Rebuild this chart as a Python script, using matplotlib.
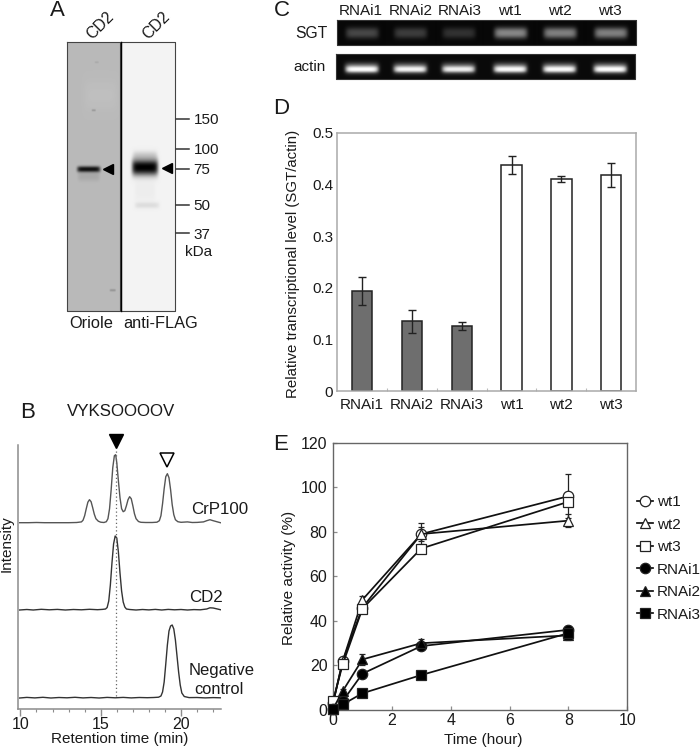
import numpy as np
import matplotlib
matplotlib.use("Agg")
import matplotlib.pyplot as plt
from matplotlib.ticker import MultipleLocator

plt.rcParams['font.family'] = ['Liberation Sans', 'DejaVu Sans']
W, H = 700, 749

# ---------- data ----------
lanes_d = ["RNAi1", "RNAi2", "RNAi3", "wt1", "wt2", "wt3"]
level = [0.193, 0.135, 0.126, 0.437, 0.410, 0.418]
level_err = [0.027, 0.022, 0.008, 0.017, 0.006, 0.024]
sgt_band = [0.36, 0.30, 0.24, 0.72, 0.68, 0.68]
actin_band = [1.0, 0.92, 0.88, 0.97, 0.97, 1.0]

hours = [0, 0.33, 1, 3, 8]
wt1 = [3, 22, 46, 79, 96]
wt2 = [3, 22, 49.5, 79, 85]
wt3 = [4, 20.5, 45.5, 72.5, 93.5]
rnai1 = [0.5, 4, 16.3, 28.7, 36]
rnai2 = [0.5, 8.5, 22.7, 30, 33.5]
rnai3 = [0.5, 2.5, 7.5, 15.7, 34.5]
wt1_err = [0, 1, 1.5, 5, 10]
wt2_err = [0, 1, 1.5, 3, 3]
wt3_err = [0, 1, 1.5, 2, 2]
rnai1_err = [0, 0.5, 1, 1.5, 1.5]
rnai2_err = [0, 1, 2.5, 2, 2]
rnai3_err = [0, 0.5, 0.5, 0.5, 1]

crp_t = [9.95,10.5,11,11.5,12,13,13.5,13.8,13.9,14.0,14.1,14.2,14.3,14.4,14.5,14.6,14.7,14.85,15,15.2,15.35,15.45,15.55,15.65,15.75,15.85,15.93,16.0,16.1,16.2,16.3,16.4,16.5,16.6,16.7,16.8,16.9,17.0,17.1,17.2,17.35,17.5,17.8,18.2,18.5,18.65,18.75,18.85,18.95,19.05,19.15,19.25,19.35,19.45,19.55,19.65,19.8,20,20.4,20.7,21,21.4,21.6,21.8,22,22.45]
crp_i = [0,0,0.2,0,0,0,0.2,0.8,2.5,7,14,20.5,23,21,15,8.5,4,1.5,0.5,0.2,1,4,14,33,55,67,68,60,42,25,14,11,12,17,23,26,24,17,9,4,1.2,0.4,0.2,0.2,0.5,2,7,19,34,46,49,45,33,18,8,3,1,0.4,0.8,0.2,0.3,0.8,2,3,2,0]
cd2_t = [9.95,10.4,10.8,11.3,11.8,12.3,12.8,13.3,13.8,14.3,14.8,15.1,15.3,15.4,15.5,15.6,15.7,15.8,15.9,16.0,16.1,16.2,16.3,16.4,16.5,16.6,16.8,17.2,17.6,18,18.4,18.8,19.2,19.6,20,20.4,20.8,21.2,21.6,21.8,22,22.45]
cd2_i = [0,0.5,0,0.7,0.2,0.6,0,0.5,0.2,0.7,0.3,0.6,1,2.5,9,25,47,66,74,72,58,37,19,8,3,1,0.5,0,0.5,0.1,0.6,0,0.6,0.2,0.5,0,0.4,0.2,1,2.2,2,0.3]
neg_t = [9.95,10.4,10.9,11.4,11.9,12.4,12.9,13.4,13.9,14.4,14.9,15.4,15.9,16.4,16.9,17.4,17.9,18.3,18.6,18.75,18.85,18.95,19.05,19.15,19.25,19.35,19.45,19.55,19.65,19.75,19.85,19.95,20.05,20.2,20.5,21,21.5,22,22.45]
neg_i = [0,0.6,0.1,0.7,0,0.5,0.2,0.7,0.1,0.5,0,0.6,0.2,0.6,0.1,0.5,0.3,0.5,0.8,2,6,16,34,53,67,72,73,69,58,42,26,13,5,1.5,0.4,0.5,0.1,0.4,0.2]
crp_base, cd2_base, neg_base = 186.3, 99, 11

mw_labels = ["150", "100", "75", "50", "37"]
mw_y = [119, 149, 169, 205, 233]

BLACK = '#1a1a1a'
GRAY = '#8c8c8c'

fig = plt.figure(figsize=(W / 100, H / 100), dpi=100)
bg = fig.add_axes([0, 0, 1, 1], zorder=0)
bg.set_xlim(0, W); bg.set_ylim(H, 0); bg.axis('off')


def place(l, t, r, b, **kw):
    return fig.add_axes([l / W, 1 - b / H, (r - l) / W, (b - t) / H], zorder=1, **kw)


def txt(x, y, s, size=11, **kw):
    kw.setdefault('ha', 'center'); kw.setdefault('va', 'center')
    bg.text(x, y, s, fontsize=size, color=BLACK, **kw)


def render(box, base, bands, frame='#555555'):
    """Paint blot / gel bands (cx, cy, half-w, half-h, strength, level) into an image."""
    l, t, r, b = box
    xs = np.arange(l, r, 0.5); ys = np.arange(t, b, 0.5)
    X, Y = np.meshgrid(xs, ys)
    img = np.full(X.shape, float(base))
    for cx, cy, hw, hh, s, target in bands:
        w = np.exp(-np.abs((X - cx) / hw) ** 8) * np.exp(-np.abs((Y - cy) / hh) ** 2.4)
        img = img + (target - img) * np.clip(w * s, 0, 1)
    bg.imshow(img, extent=(l, r, b, t), cmap='gray', vmin=0, vmax=1, aspect='auto', zorder=1, interpolation='bilinear')
    bg.plot([l, r, r, l, l], [t, t, b, b, t], color=frame, lw=0.8, zorder=2)


# ---------- panel A ----------
render((66.5, 42, 120.3, 311), 0.73, [
    (88, 169, 11.5, 3.0, 1.0, 0.05), (88, 176, 11, 5, 0.25, 0.45),
    (100, 95, 16, 14, 0.2, 0.82), (112, 290, 3, 1.2, 0.45, 0.4),
    (96, 62, 2, 1, 0.3, 0.5), (93, 110, 2, 1, 0.5, 0.45)], frame='#444444')
render((121.2, 42, 175, 311), 0.95, [
    (145, 167, 13, 8.0, 1.0, 0.0), (145, 156, 12, 5, 0.3, 0.45),
    (147, 205, 12, 3, 0.16, 0.45), (145, 190, 10, 12, 0.05, 0.5)], frame='#444444')
bg.plot([120.75, 120.75], [42, 311], color='black', lw=1.0, zorder=3)
bg.plot([108], [169], marker='<', ms=7.5, color='black', mec='black', zorder=3)
bg.plot([167], [168], marker='<', ms=7.5, color='black', mec='black', zorder=3)
for lab, y in zip(mw_labels, mw_y):
    bg.plot([176, 189], [y, y], color='#333333', lw=1.1)
txt(207, 120, "150"); txt(207, 150, "100"); txt(202, 170, "75")
txt(202, 206, "50"); txt(202, 235, "37"); txt(199, 252, "kDa")
txt(57, 10, "A", size=16)
txt(100, 26, "CD2", rotation=45, size=11.5); txt(156, 26, "CD2", rotation=45, size=11.5)
txt(91, 323, "Oriole", size=11.8); txt(160.5, 323, "anti-FLAG", size=11.8)

# ---------- panel B ----------
ax_b = place(18, 445, 220.7, 709)
ax_b.patch.set_alpha(0)
ax_b.set_xlim(9.85, 22.47); ax_b.set_ylim(0, 264)
for name, t, i, b, c in [("CrP100", crp_t, crp_i, crp_base, '#555555'),
                         ("CD2", cd2_t, cd2_i, cd2_base, '#333333'),
                         ("Negative control", neg_t, neg_i, neg_base, '#333333')]:
    ax_b.plot(t, np.asarray(i) + b, color=c, lw=1.0)
ax_b.axvline(15.93, ymin=0.05, ymax=0.98, color='#666666', lw=0.9, ls=(0, (1, 2)))
for s in ('top', 'right'):
    ax_b.spines[s].set_visible(False)
for s in ('left', 'bottom'):
    ax_b.spines[s].set_color(GRAY); ax_b.spines[s].set_linewidth(1.1)
ax_b.set_yticks([])
ax_b.set_xticks([10, 15, 20])
ax_b.xaxis.set_minor_locator(MultipleLocator(1))
ax_b.tick_params(axis='x', which='major', length=5, color=GRAY, width=1, labelsize=11.5, labelcolor=BLACK, pad=1)
ax_b.tick_params(axis='x', which='minor', length=2.5, color=GRAY, width=0.8)
bg.plot([115.5], [441], marker='v', ms=9.5, color='black', mec='black', zorder=3)
bg.plot([166.7], [459.5], marker='v', ms=9.5, mfc='white', mec='black', mew=1.1, zorder=3)
txt(28, 412, "B", size=16); txt(121, 412, "VYKSOOOOV", size=12.2)
txt(220, 510, "CrP100", size=12.2); txt(206, 597, "CD2", size=12.2)
txt(222, 670, "Negative", size=12); txt(219, 689, "control", size=11.8)
txt(7, 544, "Intensity", rotation=90)
txt(120, 739, "Retention time (min)")

# ---------- panel C ----------
centres = [361.7, 410, 458.3, 510, 559.3, 610]
render((336.7, 20, 635.7, 44.7), 0.03,
       [(c, 32.7, 16.5, 5.5, s, 0.72) for c, s in zip(centres, sgt_band)], frame='#333333')
render((336, 54, 635, 79), 0.04,
       [(c, 68, 17, 5.2, 0.8 * s, 0.72) for c, s in zip(centres, actin_band)] +
       [(c, 69, 15.5, 2.8, s, 1.0) for c, s in zip(centres, actin_band)], frame='#333333')
txt(282, 11, "C", size=16)
for c, lab in zip([361, 411, 460, 509.5, 559.5, 609.5], lanes_d):
    txt(c, 11, lab)
txt(311, 34, "SGT", size=11.3); txt(310, 67, "actin")

# ---------- panel D ----------
ax_d = place(337.3, 132.7, 636, 391)
ax_d.patch.set_alpha(0)
x_d = np.arange(len(lanes_d)) + 0.5
ax_d.bar(x_d, level, width=0.41,
         color=['#6e6e6e'] * 3 + ['white'] * 3, edgecolor='#222222', linewidth=1.1, zorder=2)
ax_d.errorbar(x_d, level, yerr=level_err, fmt='none', ecolor='#222222', elinewidth=1.0, capsize=2.6, capthick=1.0, zorder=3)
ax_d.set_xlim(0, 6); ax_d.set_ylim(0, 0.5)
ax_d.set_xticks(np.arange(1, 6))
ax_d.set_xticks(x_d, minor=True)
ax_d.set_xticklabels([])
ax_d.set_xticklabels(lanes_d, minor=True)
ax_d.set_yticks([0, 0.1, 0.2, 0.3, 0.4, 0.5])
ax_d.set_yticklabels(["0", "0.1", "0.2", "0.3", "0.4", "0.5"])
ax_d.tick_params(axis='x', which='major', direction='in', length=2.5, color='#bbbbbb', width=0.8)
ax_d.tick_params(axis='x', which='minor', length=0, labelsize=11, labelcolor=BLACK, pad=5)
ax_d.tick_params(axis='y', direction='in', length=0, labelsize=11, labelcolor=BLACK, pad=3)
for s in ax_d.spines.values():
    s.set_color('#aaaaaa'); s.set_linewidth(1.1)
txt(281, 108, "D", size=16)
txt(293, 264, "Relative transcriptional level (SGT/actin)", size=10.8, rotation=90)

# ---------- panel E ----------
ax_e = place(333, 442.7, 627.3, 710)
ax_e.patch.set_alpha(0)
series = [("wt1", wt1, wt1_err, 'o', 'white'), ("wt2", wt2, wt2_err, '^', 'white'),
          ("wt3", wt3, wt3_err, 's', 'white'), ("RNAi1", rnai1, rnai1_err, 'o', 'black'),
          ("RNAi2", rnai2, rnai2_err, '^', 'black'), ("RNAi3", rnai3, rnai3_err, 's', 'black')]
handles = []
for name, v, e, m, fc in series:
    ax_e.errorbar(hours, v, yerr=e, fmt='none', ecolor='#222222', elinewidth=0.9, capsize=2, capthick=0.9,
                  clip_on=False, zorder=2)
    h, = ax_e.plot(hours, v, '-', color='#111111', lw=1.25, marker=m, ms=7.5, mfc=fc,
                   mec='#222222', mew=0.9, clip_on=False, zorder=3, label=name)
    handles.append(h)
ax_e.set_xlim(0, 10); ax_e.set_ylim(0, 120)
ax_e.set_xticks(range(0, 11, 2)); ax_e.set_yticks(range(0, 121, 20))
ax_e.tick_params(axis='both', direction='in', length=3, color=GRAY, width=0.9, labelsize=11.5, labelcolor=BLACK)
ax_e.tick_params(axis='x', pad=2.5); ax_e.tick_params(axis='y', pad=4)
for s in ax_e.spines.values():
    s.set_color('#666666'); s.set_linewidth(1.0)
ax_e.legend(handles=handles, loc='upper left', bbox_to_anchor=((637 - 333) / 294.3, 1 - (495 - 442.7) / 267.3),
            frameon=False, fontsize=11, labelspacing=0.56, handlelength=1.05, handletextpad=0.25,
            borderpad=0, borderaxespad=0, labelcolor=BLACK)
txt(281, 444, "E", size=16)
txt(289, 578, "Relative activity (%)", rotation=90)
txt(483, 740, "Time (hour)")

fig.savefig("out.png", dpi=100)
